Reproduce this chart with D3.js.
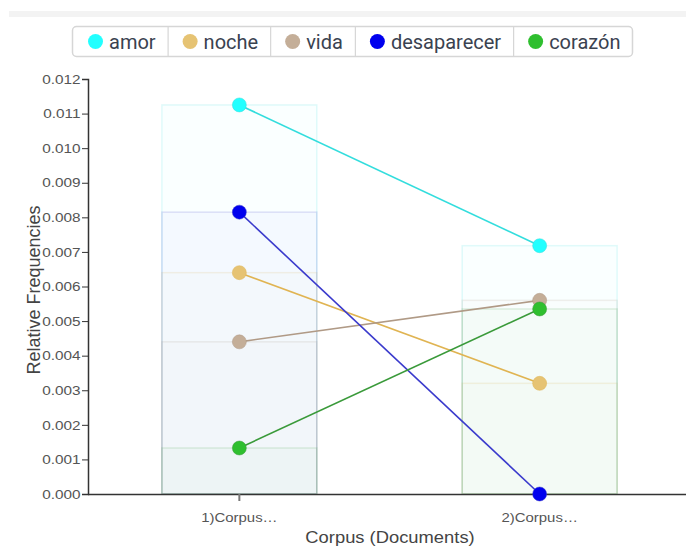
<!DOCTYPE html>
<html><head><meta charset="utf-8">
<script src="https://cdn.jsdelivr.net/npm/d3@7"></script>
<style>body{margin:0;background:#fff;} svg{display:block;}</style>
</head><body>
<script>
const documents = ["1)Corpus…", "2)Corpus…"];
const words = ["amor", "noche", "vida", "desaparecer", "corazón"];
const amor = [0.01125, 0.00718];
const noche = [0.0064, 0.0032];
const vida = [0.0044, 0.0056];
const desaparecer = [0.00815, 0.0];
const corazon = [0.00133, 0.00535];
const yTicks = [0,0.001,0.002,0.003,0.004,0.005,0.006,0.007,0.008,0.009,0.010,0.011,0.012];
const dotColors = ["#22ffff", "#e6c373", "#c4ae98", "#0000ee", "#2fbf2f"];
const lineColors = ["#33dddd", "#e0b452", "#b09a86", "#3a3acc", "#3a9a3a"];
const series = [amor, noche, vida, desaparecer, corazon];

const W = 686, H = 546;
const FONT = "Arial, 'Liberation Sans', sans-serif";
const svg = d3.select("body").append("svg").attr("width", W).attr("height", H);
svg.append("rect").attr("x", 9).attr("y", 11).attr("width", W - 9).attr("height", 6).attr("fill", "#f3f3f3");

const x = d3.scaleBand().domain(documents).range([88, 691]).paddingInner(0.484).paddingOuter(0.246);
const y = d3.scaleLinear().domain([0, 0.012]).range([494, 79]);

// bars
words.forEach((w, i) => {
  svg.append("g").selectAll("rect").data(series[i]).join("rect")
    .attr("x", (d, j) => x(documents[j]))
    .attr("width", x.bandwidth())
    .attr("y", d => y(d))
    .attr("height", d => y(0) - y(d))
    .attr("fill", dotColors[i]).attr("fill-opacity", 0.022)
    .attr("stroke", lineColors[i]).attr("stroke-opacity", 0.15).attr("stroke-width", 1.5);
});

// axes
const sY = 1.18, sX = 1.15;
const yAxis = svg.append("g").attr("transform", "translate(88,0)")
  .call(d3.axisLeft(y).tickValues(yTicks).tickFormat(d3.format(".3f")).tickSizeOuter(0).tickSize(6));
yAxis.selectAll("text").attr("font-family", FONT).attr("font-size", 13).attr("fill", "#555")
  .attr("x", -7.5 / sY).attr("transform", `scale(${sY},1)`);
yAxis.select(".domain").attr("stroke", "#333").attr("stroke-width", 1.5);
yAxis.selectAll(".tick line").attr("stroke", "#333");

const xAxis = svg.append("g").attr("transform", "translate(0,494)")
  .call(d3.axisBottom(x).tickSizeOuter(0).tickSize(7));
xAxis.select(".domain").attr("d", "M88,0.5H686").attr("stroke", "#333").attr("stroke-width", 1.5);
xAxis.selectAll(".tick line").attr("stroke", "#777").attr("stroke-width", 2);
xAxis.selectAll("text").attr("font-family", FONT).attr("font-size", 13).attr("fill", "#555")
  .attr("y", 19).attr("dy", "0.71em").attr("transform", `scale(${sX},1)`);

// titles
svg.append("text").attr("transform", "translate(40,290) rotate(-90)").attr("text-anchor", "middle")
  .attr("font-family", FONT).attr("font-size", 18).attr("fill", "#444").text("Relative Frequencies");
svg.append("text").attr("transform", "translate(390,543) scale(1.08,1)").attr("text-anchor", "middle")
  .attr("font-family", FONT).attr("font-size", 17).attr("fill", "#444").text("Corpus (Documents)");

// lines & dots
const line = d3.line().x((d, j) => x(documents[j]) + x.bandwidth() / 2).y(d => y(d));
words.forEach((w, i) => {
  svg.append("path").datum(series[i]).attr("d", line).attr("fill", "none")
    .attr("stroke", lineColors[i]).attr("stroke-width", 1.6);
});
words.forEach((w, i) => {
  svg.append("g").selectAll("circle").data(series[i]).join("circle")
    .attr("cx", (d, j) => x(documents[j]) + x.bandwidth() / 2)
    .attr("cy", d => y(d)).attr("r", 7)
    .attr("fill", dotColors[i]).attr("stroke", lineColors[i]).attr("stroke-opacity", 0.5).attr("stroke-width", 1);
});

// legend
const lg = svg.append("g");
const box = lg.append("rect").attr("x", 72.5).attr("y", 26.5).attr("height", 30).attr("rx", 4)
  .attr("fill", "#fff").attr("stroke", "#d6d6d6").attr("stroke-width", 1.5);
let cx = 73;
words.forEach((w, i) => {
  if (i > 0) lg.append("line").attr("x1", cx + 0.5).attr("x2", cx + 0.5).attr("y1", 27).attr("y2", 56).attr("stroke", "#d6d6d6").attr("stroke-width", 1.2);
  lg.append("circle").attr("cx", cx + 22.5).attr("cy", 41.5).attr("r", 7.5).attr("fill", dotColors[i]);
  const t = lg.append("text").attr("x", cx + 36).attr("y", 48.5).attr("font-family", "Roboto, sans-serif")
    .attr("font-size", 20).attr("fill", "#3a4250").text(w);
  cx = cx + 36 + t.node().getComputedTextLength() + 12;
});
box.attr("width", cx - 72.5);
</script>
</body></html>
